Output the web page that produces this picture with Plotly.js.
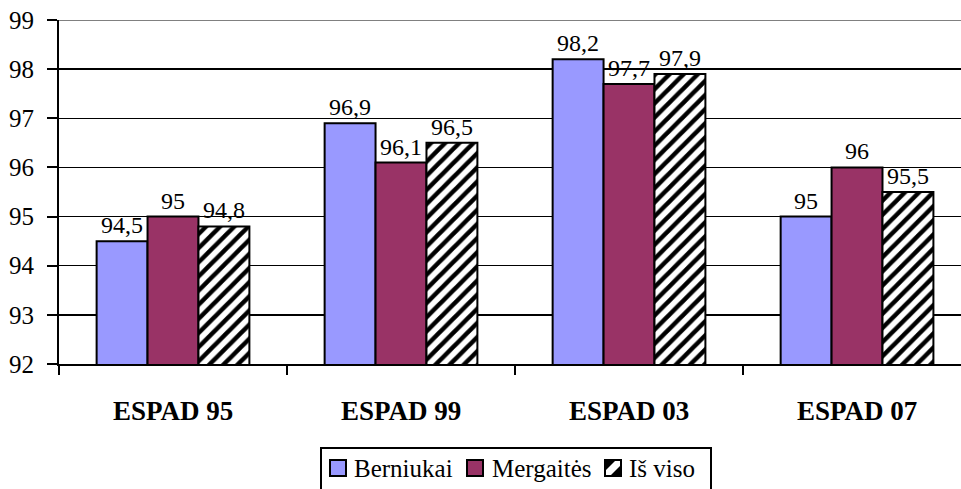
<!DOCTYPE html>
<html>
<head>
<meta charset="utf-8">
<script src="https://cdn.plot.ly/plotly-3.0.1.min.js"></script>
<style>html,body{margin:0;padding:0;background:#fff;}#chart{width:961px;height:489px;}</style>
</head>
<body>
<div id="chart"></div>
<script>
const categories = ["ESPAD 95", "ESPAD 99", "ESPAD 03", "ESPAD 07"];
const seriesNames = ["Berniukai", "Mergaitės", "Iš viso"];
const berniukai = [94.5, 96.9, 98.2, 95];
const mergaites = [95, 96.1, 97.7, 96];
const isViso = [94.8, 96.5, 97.9, 95.5];
const yTicks = [92, 93, 94, 95, 96, 97, 98, 99];

const FONT = "Liberation Serif";
const fmt = v => String(v).replace('.', ',');

const M = {l: 59, r: 0, t: 20, b: 125};
const W = 961, H = 489;
const PW = W - M.l - M.r, PH = H - M.t - M.b;
const px2x = p => (p - M.l) / PW;
const py2y = p => (H - M.b - p) / PH;

function bar(name, vals, marker) {
  return {
    type: 'bar', name: name, x: categories, y: vals,
    text: vals.map(fmt), textposition: 'outside', constraintext: 'none',
    cliponaxis: false,
    textfont: {family: FONT, size: 24, color: '#000'},
    marker: marker, hoverinfo: 'skip', showlegend: false
  };
}

const colors = ['#9999FF', '#993366'];
const data = [
  bar(seriesNames[0], berniukai, {color: colors[0], line: {color: '#000', width: 2}}),
  bar(seriesNames[1], mergaites, {color: colors[1], line: {color: '#000', width: 2}}),
  bar(seriesNames[2], isViso, {color: '#FFFFFF', line: {color: '#000', width: 2},
    pattern: {shape: '/', fgcolor: '#000', bgcolor: '#fff', size: 10, solidity: 0.45, fillmode: 'replace'}})
];

// custom legend (pixel-anchored shapes relative to plot bottom-left)
function pxRect(x0, y0, x1, y1, fill, lw) {
  return {type: 'rect', xref: 'paper', yref: 'paper', xsizemode: 'pixel', ysizemode: 'pixel',
    xanchor: 0, yanchor: 0,
    x0: x0 - M.l, x1: x1 - M.l, y0: (H - M.b) - y0, y1: (H - M.b) - y1,
    fillcolor: fill, line: {color: '#000', width: lw}, layer: 'above'};
}
function pxPath(pts, fill) {
  const d = 'M' + pts.map(p => (p[0] - M.l) + ',' + ((H - M.b) - p[1])).join('L') + 'Z';
  return {type: 'path', xref: 'paper', yref: 'paper', xsizemode: 'pixel', ysizemode: 'pixel',
    xanchor: 0, yanchor: 0, path: d, fillcolor: fill, line: {width: 0}, layer: 'above'};
}

const shapes = [
  {type: 'line', xref: 'paper', yref: 'y', x0: 0, x1: 1, y0: 99, y1: 99,
   line: {color: '#808080', width: 2}, layer: 'above'},
  pxRect(321, 448, 711, 500, '#FFFFFF', 2),
  pxRect(330, 460, 346, 476, colors[0], 2),
  pxRect(467, 460, 483, 476, colors[1], 2),
  pxRect(605, 460, 621, 476, '#000000', 0),
  pxPath([[606, 475], [611, 475], [620, 466], [620, 461], [615, 461], [606, 470]], '#FFFFFF'),
  pxRect(605, 460, 621, 476, 'rgba(0,0,0,0)', 2)
];

const legendText = [[seriesNames[0], 352], [seriesNames[1], 490], [seriesNames[2], 627]];
const annotations = legendText.map(([t, x]) => ({
  text: t, xref: 'paper', yref: 'paper', x: px2x(x), y: py2y(468),
  xanchor: 'left', yanchor: 'middle', showarrow: false,
  font: {family: FONT, size: 25, color: '#000'}
}));

const layout = {
  width: W, height: H,
  margin: M,
  paper_bgcolor: '#fff', plot_bgcolor: '#fff',
  font: {family: FONT, size: 24, color: '#000'},
  bargap: 0.33, bargroupgap: 0,
  showlegend: false,
  shapes: shapes,
  annotations: annotations,
  xaxis: {
    type: 'category', range: [-0.5, 3.456],
    showline: true, linecolor: '#000', linewidth: 2,
    ticks: 'outside', tickson: 'boundaries', ticklen: 9, tickwidth: 2, tickcolor: '#000',
    tickfont: {family: FONT, size: 27, color: '#000', weight: 'bold'},
    ticklabelstandoff: 22,
    showgrid: false, zeroline: false, fixedrange: true
  },
  yaxis: {
    range: [92, 99], tickvals: yTicks, ticktext: yTicks.map(String),
    showline: true, linecolor: '#000', linewidth: 2,
    ticks: 'outside', ticklen: 10, tickwidth: 2, tickcolor: '#000',
    tickfont: {family: FONT, size: 25, color: '#000'},
    ticklabelstandoff: 8,
    showgrid: true, gridcolor: '#000', gridwidth: 1.5,
    zeroline: false, fixedrange: true
  }
};

Plotly.newPlot('chart', data, layout, {displayModeBar: false, staticPlot: true});
</script>
</body>
</html>
